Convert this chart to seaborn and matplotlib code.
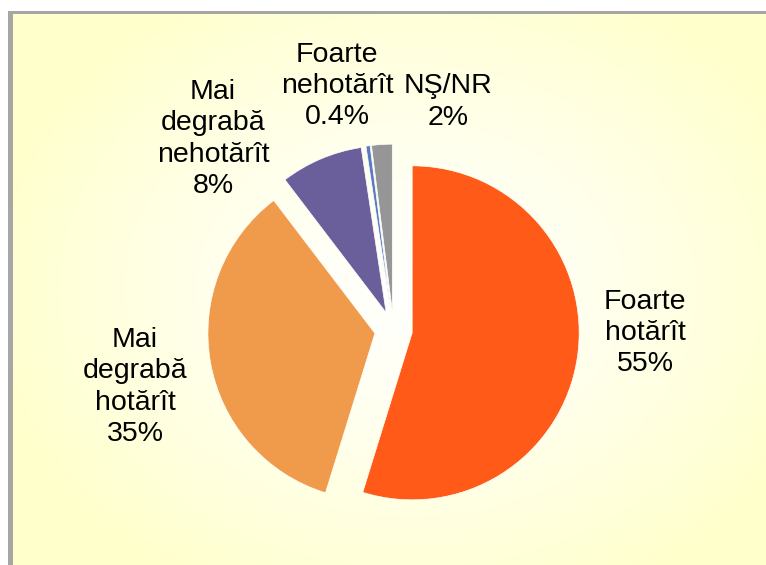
import numpy as np
import matplotlib
matplotlib.use("Agg")
import matplotlib.pyplot as plt
from matplotlib.patches import Rectangle
import seaborn as sns

# chart data
categories = ["Foarte hotărît", "Mai degrabă hotărît", "Mai degrabă nehotărît",
              "Foarte nehotărît", "NŞ/NR"]
label_texts = ["Foarte\nhotărît", "Mai\ndegrabă\nhotărît", "Mai\ndegrabă\nnehotărît",
               "Foarte\nnehotărît", "NŞ/NR"]
shares = [55, 35, 8, 0.4, 2]
pct_labels = ["55%", "35%", "8%", "0.4%", "2%"]
colors = ["#FF5A17", "#F09B4B", "#6A5F9B", "#5B7BC0", "#969696"]

W, H = 766, 565
sns.set_style("white")
plt.rcParams["font.family"] = ["Liberation Sans", "DejaVu Sans"]

fig = plt.figure(figsize=(W / 100, H / 100), dpi=100)
fig.patch.set_facecolor("white")

# gradient background (white centre -> pale yellow)
bg = fig.add_axes([13 / W, 0, (W - 13) / W, (H - 14) / H], zorder=0)
yy, xx = np.mgrid[14:H, 13:W]
d = np.sqrt(((xx - 410) / 430.0) ** 2 + ((yy - 290) / 340.0) ** 2)
t = np.clip(d, 0, 1) ** 1.4
white = np.array([255, 255, 252]) / 255
yellow = np.array([255, 255, 204]) / 255
img = white[None, None, :] * (1 - t[..., None]) + yellow[None, None, :] * t[..., None]
bg.imshow(img, aspect="auto", interpolation="bilinear")
bg.axis("off")

# grey frame (left + top only visible)
fig.patches.append(Rectangle((8 / W, 0), 5 / W, (H - 11) / H, transform=fig.transFigure,
                             facecolor="#A6A6A6", edgecolor="none", zorder=1))
fig.patches.append(Rectangle((8 / W, (H - 14) / H), (W - 8) / W, 3 / H, transform=fig.transFigure,
                             facecolor="#A6A6A6", edgecolor="none", zorder=1))

# pie, centre at pixel (393.5, 330), radius 167 px
cx, cy, r = 393.5, 330, 167
ax = fig.add_axes([0, 0, 1, 1], zorder=2)
ax.patch.set_alpha(0)
ax.pie(shares, colors=colors, explode=[0.113] * len(shares), startangle=90,
       counterclock=False, radius=1, center=(0, 0),
       wedgeprops=dict(linewidth=0.5, edgecolor="white"))
ax.set_xlim(-cx / r, (W - cx) / r)
ax.set_ylim(-(H - cy) / r, cy / r)
ax.set_aspect("equal")
ax.axis("off")

# label placement (pixel centres)
label_pos = [(645, 333), (135, 387), (213, 139), (337, 86), (448, 102)]
for txt, pct, (px, py) in zip(label_texts, pct_labels, label_pos):
    fig.text(px / W, 1 - py / H, f"{txt}\n{pct}", ha="center", va="center",
             multialignment="center", fontsize=20.5, linespacing=1.27, color="black")

fig.savefig("out.png", dpi=100)
